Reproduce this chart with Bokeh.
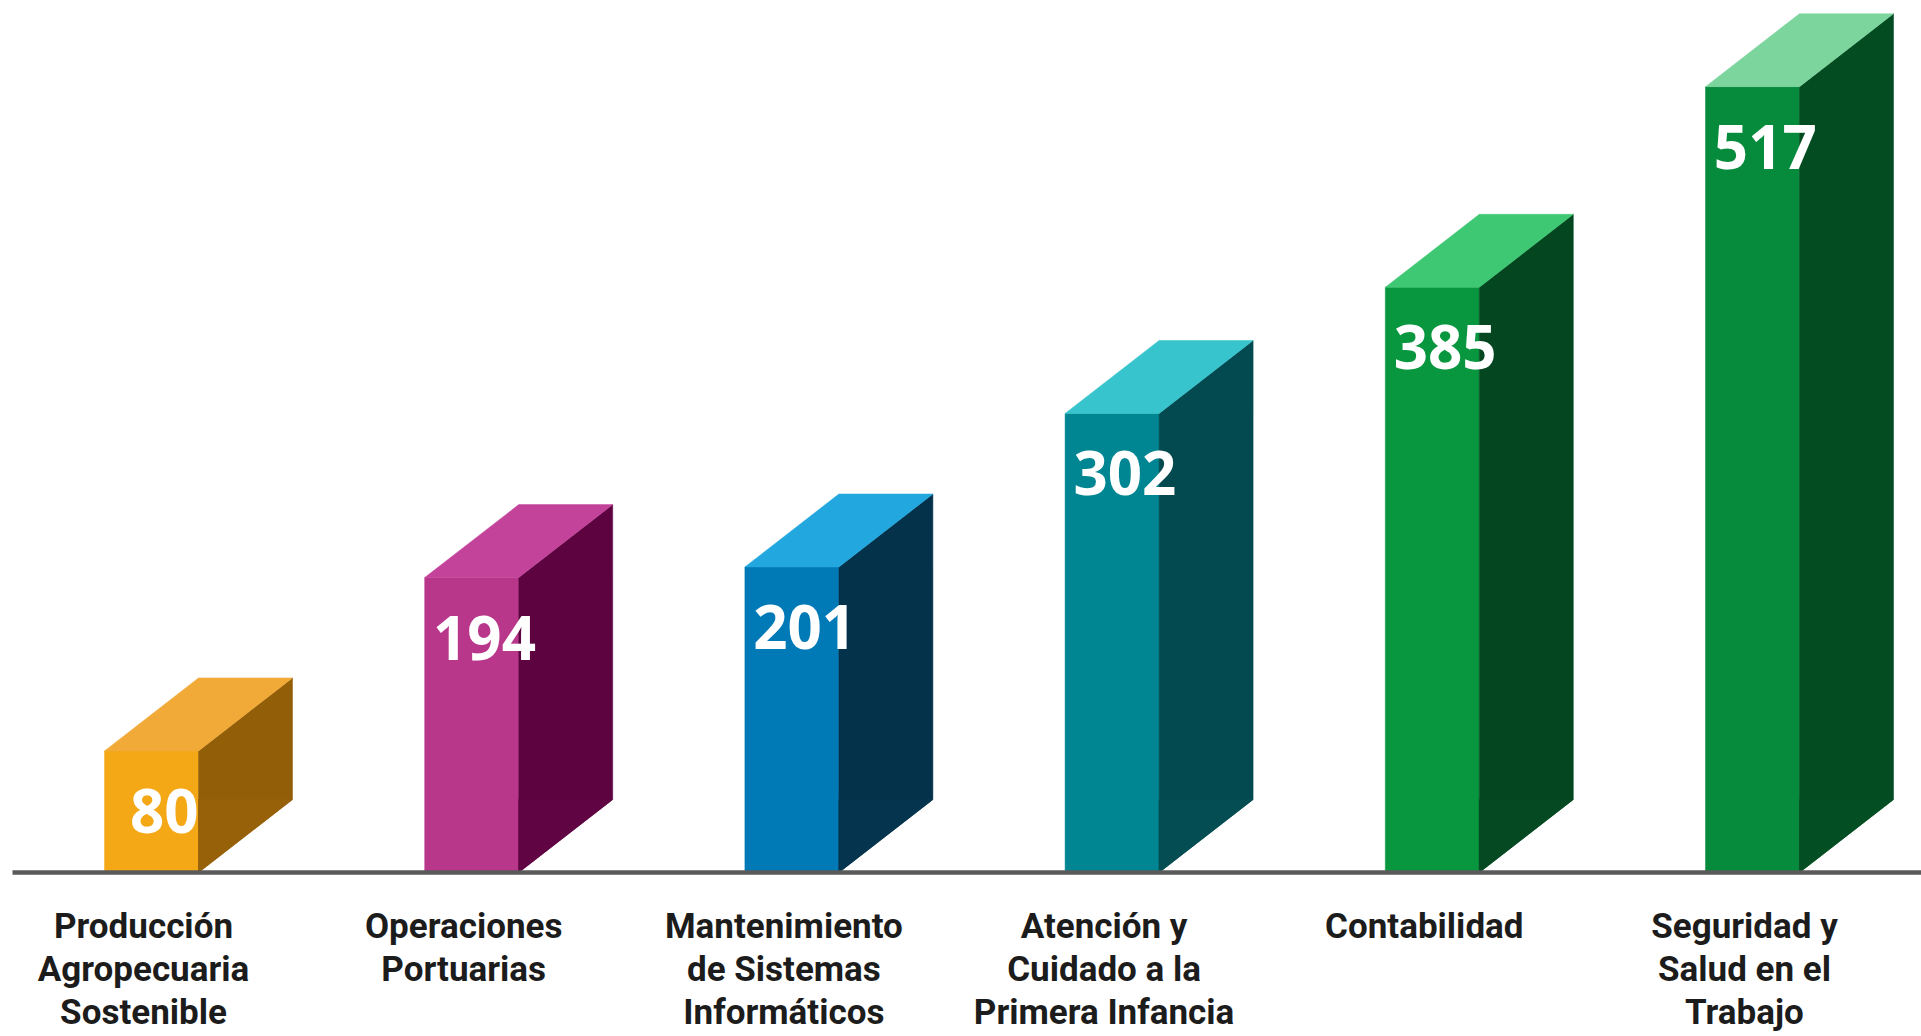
from bokeh.plotting import figure
from bokeh.models import Range1d, ColumnDataSource
from bokeh.core.properties import value
from bokeh.embed import file_html
from bokeh.resources import INLINE

# ---- data ----
categories = [
    "Producción\nAgropecuaria\nSostenible",
    "Operaciones\nPortuarias",
    "Mantenimiento\nde Sistemas\nInformáticos",
    "Atención y\nCuidado a la\nPrimera Infancia",
    "Contabilidad",
    "Seguridad y\nSalud en el\nTrabajo",
]
values = [80, 194, 201, 302, 385, 517]
front_colors = ["#F5A816", "#B8378A", "#0079B7", "#008692", "#08963F", "#068A3B"]
top_colors = ["#F1AA38", "#C3439A", "#23A7DF", "#37C4CD", "#3EC873", "#7DD59E"]
side_colors = ["#935E08", "#5D0340", "#04324B", "#034A50", "#03461F", "#034B20"]
low_side_colors = ["#976109", "#600443", "#05354E", "#044D53", "#044922", "#044E23"]

# ---- geometry (screen-derived styling constants) ----
W, H = 1921, 1036
BASE = 872            # baseline, px from top
PX_X = 320.2          # px per category step
PX_Y = 1.52           # px per value unit
x0 = -151 / PX_X
y0 = -(H - BASE) / PX_Y
half_w = 47 / PX_X
dx = 94 / PX_X
dy = 73 / PX_Y

p = figure(width=W, height=H, output_backend="svg", toolbar_location=None,
           x_range=Range1d(x0, x0 + W / PX_X), y_range=Range1d(y0, y0 + H / PX_Y),
           min_border=0, background_fill_color="white", border_fill_color="white")
p.axis.visible = False
p.grid.visible = False
p.outline_line_color = None

idx = list(range(len(values)))
front_xs, front_ys, top_xs, top_ys, side_xs, side_ys, low_xs, low_ys = ([] for _ in range(8))
for i, v in zip(idx, values):
    xl, xr = i - half_w, i + half_w
    front_xs.append([xl, xr, xr, xl]); front_ys.append([0, 0, v, v])
    top_xs.append([xl, xr, xr + dx, xl + dx]); top_ys.append([v, v, v + dy, v + dy])
    side_xs.append([xr, xr, xr + dx, xr + dx]); side_ys.append([0, v, v + dy, dy])
    low_xs.append([xr, xr + dx, xr]); low_ys.append([0, dy, dy])

p.patches(front_xs, front_ys, fill_color=front_colors, line_color=front_colors, line_width=0.5)
p.patches(side_xs, side_ys, fill_color=side_colors, line_color=side_colors, line_width=0.5)
p.patches(low_xs, low_ys, fill_color=low_side_colors, line_color=low_side_colors, line_width=0.5)
p.patches(top_xs, top_ys, fill_color=top_colors, line_color=top_colors, line_width=0.5)

# baseline
p.line([x0 + 12 / PX_X, x0 + W / PX_X], [0, 0], line_color="#5a5a5a", line_width=4.5)

# value labels
src = ColumnDataSource(dict(
    x=[i + 0.04 for i in idx],
    y=[v - 60 / PX_Y for v in values],
    t=[str(v) for v in values],
))
p.text(x="x", y="y", text="t", source=src, text_color="white",
       text_font=value("Open Sans"), text_font_style="bold", text_font_size="60px",
       text_align="center", text_baseline="middle")

# category labels
src2 = ColumnDataSource(dict(
    x=[i - 0.025 for i in idx],
    y=[-33 / PX_Y] * len(idx),
    t=categories,
))
p.text(x="x", y="y", text="t", source=src2, text_color="#1c1c1c",
       text_font=value("Roboto"), text_font_style="bold", text_font_size="35px",
       text_align="center", text_baseline="top", text_line_height=1.06)

open("out.html", "w").write(file_html(p, INLINE))
